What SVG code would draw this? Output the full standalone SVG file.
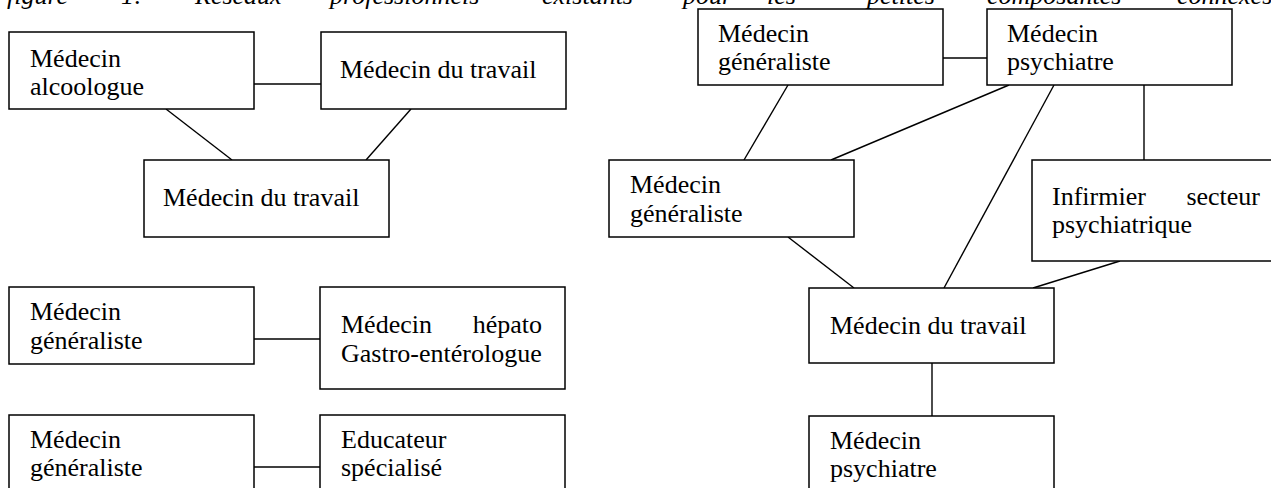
<svg xmlns="http://www.w3.org/2000/svg" width="1271" height="488" viewBox="0 0 1271 488">
  <style>
    .box { fill: #ffffff; stroke: #000000; stroke-width: 1.5; }
    .lbl { font-family: "Liberation Serif", "Times New Roman", serif; font-size: 26px; fill: #000000; }
    .cap { font-family: "Liberation Serif", "Times New Roman", serif; font-size: 26px; font-style: italic; fill: #000000; }
    .edge { stroke: #000000; stroke-width: 1.4; fill: none; }
  </style>
  <rect x="0" y="0" width="1271" height="488" fill="#ffffff"/>

  <!-- caption line, partly above the top edge -->
  <text class="cap" y="4">
    <tspan x="7">figure</tspan>
    <tspan x="121">1:</tspan>
    <tspan x="195">Réseaux</tspan>
    <tspan x="330">professionnels</tspan>
    <tspan x="542">existants</tspan>
    <tspan x="683">pour</tspan>
    <tspan x="767">les</tspan>
    <tspan x="867">petites</tspan>
    <tspan x="987">composantes</tspan>
    <tspan x="1177">connexes</tspan>
  </text>

  <!-- connectors -->
  <g id="connectors" class="edge">
    <!-- left cluster -->
    <line x1="254" y1="84" x2="321" y2="84"/>
    <line x1="166" y1="109" x2="232" y2="160"/>
    <line x1="411" y1="109" x2="366" y2="160"/>
    <!-- pairs -->
    <line x1="254" y1="339" x2="320" y2="339"/>
    <line x1="254" y1="467" x2="320" y2="467"/>
    <!-- right cluster -->
    <line x1="943" y1="58" x2="987" y2="58"/>
    <line x1="788" y1="85" x2="744" y2="160"/>
    <line x1="1009" y1="85" x2="831" y2="160"/>
    <line x1="1054" y1="85" x2="944" y2="288"/>
    <line x1="1144" y1="85" x2="1144" y2="160"/>
    <line x1="788" y1="237" x2="854" y2="288"/>
    <line x1="1120" y1="261" x2="1033" y2="288"/>
    <line x1="932" y1="363" x2="932" y2="416"/>
  </g>

  <!-- left cluster -->
  <g id="alcoologue">
    <rect class="box" x="9" y="32" width="245" height="77"/>
    <text class="lbl"><tspan x="30" y="67">Médecin</tspan><tspan x="30" y="95">alcoologue</tspan></text>
  </g>
  <g id="travail-a">
    <rect class="box" x="321" y="32" width="245" height="77"/>
    <text class="lbl" x="340" y="78">Médecin du travail</text>
  </g>
  <g id="travail-b">
    <rect class="box" x="144" y="160" width="245" height="77"/>
    <text class="lbl" x="163" y="206">Médecin du travail</text>
  </g>

  <!-- generalist / hepato pair -->
  <g id="generaliste-a">
    <rect class="box" x="9" y="287" width="245" height="77"/>
    <text class="lbl"><tspan x="30" y="320">Médecin</tspan><tspan x="30" y="349">généraliste</tspan></text>
  </g>
  <g id="hepato">
    <rect class="box" x="320" y="287" width="245" height="102"/>
    <text class="lbl"><tspan x="341" y="333">Médecin</tspan><tspan x="542" y="333" text-anchor="end">hépato</tspan><tspan x="341" y="362">Gastro-entérologue</tspan></text>
  </g>

  <!-- generalist / educator pair -->
  <g id="generaliste-b">
    <rect class="box" x="9" y="415" width="245" height="80"/>
    <text class="lbl"><tspan x="30" y="448">Médecin</tspan><tspan x="30" y="476">généraliste</tspan></text>
  </g>
  <g id="educateur">
    <rect class="box" x="320" y="415" width="245" height="80"/>
    <text class="lbl"><tspan x="341" y="448">Educateur</tspan><tspan x="341" y="476">spécialisé</tspan></text>
  </g>

  <!-- right cluster -->
  <g id="generaliste-c">
    <rect class="box" x="698" y="9" width="245" height="76"/>
    <text class="lbl"><tspan x="718" y="42">Médecin</tspan><tspan x="718" y="70">généraliste</tspan></text>
  </g>
  <g id="psychiatre-a">
    <rect class="box" x="987" y="9" width="245" height="76"/>
    <text class="lbl"><tspan x="1007" y="42">Médecin</tspan><tspan x="1007" y="70">psychiatre</tspan></text>
  </g>
  <g id="generaliste-d">
    <rect class="box" x="609" y="160" width="245" height="77"/>
    <text class="lbl"><tspan x="630" y="193">Médecin</tspan><tspan x="630" y="222">généraliste</tspan></text>
  </g>
  <g id="infirmier">
    <rect class="box" x="1032" y="160" width="245" height="101"/>
    <text class="lbl"><tspan x="1052" y="205">Infirmier</tspan><tspan x="1260" y="205" text-anchor="end">secteur</tspan><tspan x="1052" y="233">psychiatrique</tspan></text>
  </g>
  <g id="travail-c">
    <rect class="box" x="809" y="288" width="245" height="75"/>
    <text class="lbl" x="830" y="334">Médecin du travail</text>
  </g>
  <g id="psychiatre-b">
    <rect class="box" x="809" y="416" width="245" height="77"/>
    <text class="lbl"><tspan x="830" y="449">Médecin</tspan><tspan x="830" y="477">psychiatre</tspan></text>
  </g>
</svg>
